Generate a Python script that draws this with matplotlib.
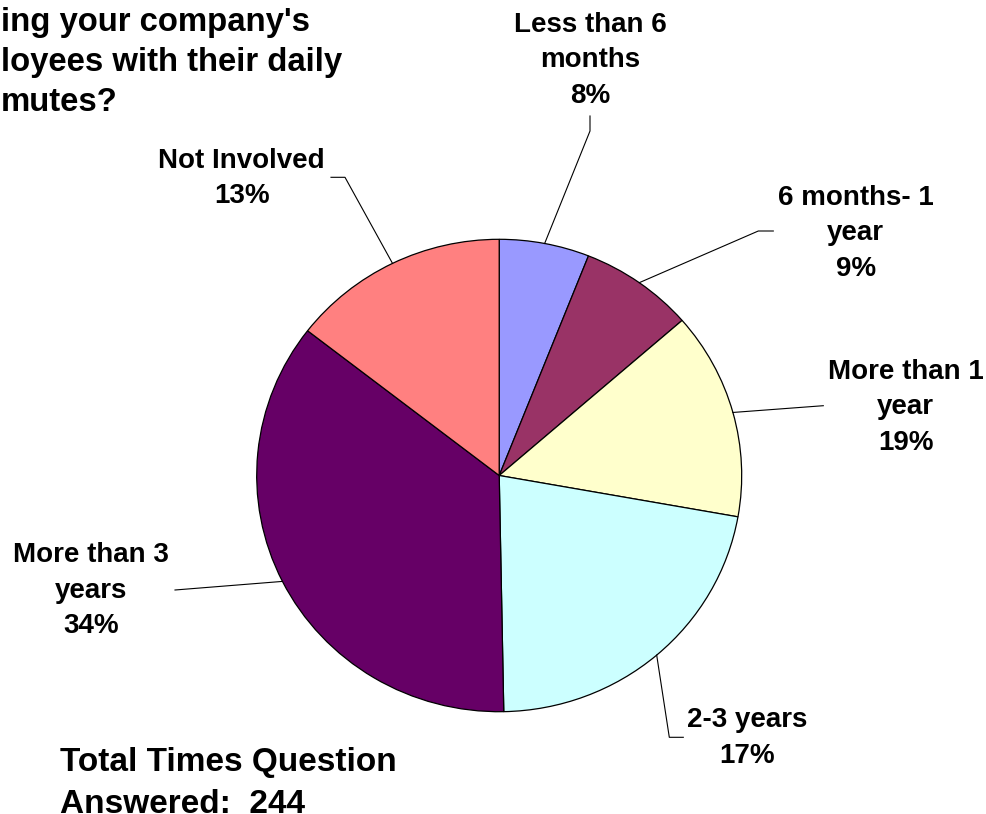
import textwrap
import numpy as np
import matplotlib
matplotlib.use("Agg")
import matplotlib.pyplot as plt

# ---- data ----
categories = ["Less than 6 months", "6 months- 1 year", "More than 1 year",
              "2-3 years", "More than 3 years", "Not Involved"]
shares = [6.0, 7.6, 14.2, 21.9, 35.8, 14.5]          # slice sizes as drawn
pct_labels = ["8%", "9%", "19%", "17%", "34%", "13%"]  # percentages as printed
colors = ["#9999FF", "#993366", "#FFFFCC", "#CCFFFF", "#660066", "#FF8080"]
title_lines = ["ing your company's", "loyees with their daily", "mutes?"]
total_text = "Total Times Question\nAnswered:  244"

# ---- layout (pixel positions; y = baseline of the last text line) ----
W, H = 987, 814
cx, cy, rx, ry = 499.2, 475.5, 242.5, 236.2
label_pos = [(590.3, 103), (855.8, 276), (905.8, 450),
             (747, 763), (90.8, 633.3), (241.7, 203.3)]
elbows = [[(590, 131), (590, 116)],
          [(758.3, 231), (773.3, 231)],
          [(823.3, 405.7)],
          [(669.3, 737.3), (683.3, 737.3)],
          [(175, 590)],
          [(345, 177.3), (331, 177.3)]]

plt.rcParams['font.family'] = ['Liberation Sans', 'DejaVu Sans']
fig = plt.figure(figsize=(W / 100, H / 100), dpi=100)
fig.patch.set_facecolor("white")

# pie axes occupying the pie's bounding box (slightly elliptical)
pax = fig.add_axes([(cx - rx) / W, 1 - (cy + ry) / H, 2 * rx / W, 2 * ry / H])
pax.pie(shares, colors=colors, startangle=90, counterclock=False,
        wedgeprops=dict(edgecolor="black", linewidth=0.9))
pax.set_aspect("auto")
pax.set_xlim(-1, 1)
pax.set_ylim(-1, 1)
pax.axis("off")

# overlay axes in pixel coordinates
ax = fig.add_axes([0, 0, 1, 1])
ax.set_xlim(0, W)
ax.set_ylim(H, 0)
ax.axis("off")
ax.patch.set_alpha(0)

total = sum(shares)
cum = np.cumsum(shares)
for i, cat in enumerate(categories):
    mid = np.deg2rad(360 * (cum[i] - shares[i] / 2) / total)
    sx = cx + rx * np.sin(mid)
    sy = cy - ry * np.cos(mid)
    pts = [(sx, sy)] + elbows[i]
    ax.plot([p[0] for p in pts], [p[1] for p in pts], color="black", lw=0.8)
    txt = textwrap.fill(cat, width=12, break_on_hyphens=False) + "\n" + pct_labels[i]
    ax.text(label_pos[i][0], label_pos[i][1], txt, ha="center", va="baseline",
            multialignment="center", fontsize=20, fontweight="bold",
            linespacing=1.48)

ax.text(1, 111, "\n".join(title_lines), ha="left", va="baseline",
        fontsize=23.7, fontweight="bold", linespacing=1.38)
ax.text(60, 812.7, total_text, ha="left", va="baseline",
        fontsize=24, fontweight="bold", linespacing=1.45)

fig.savefig("out.png", dpi=100, facecolor="white")
